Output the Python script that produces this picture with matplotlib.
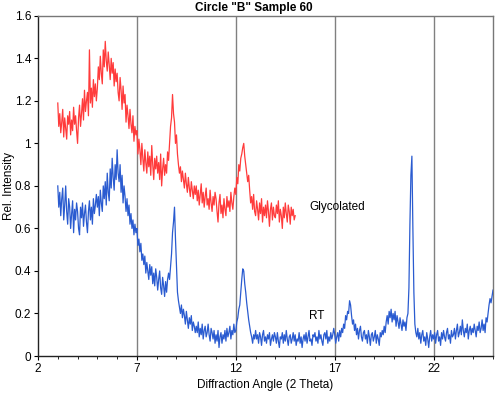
import numpy as np
import matplotlib.pyplot as plt
from matplotlib.ticker import MultipleLocator

plt.rcParams.update({
    'font.family': ['Liberation Sans', 'DejaVu Sans'],
    'font.size': 8.5,
    'axes.linewidth': 1.0,
})

# diffraction angle grids (2 theta, 0.05 deg steps)
angle_glycolated = np.round(np.arange(3.0, 15.001, 0.05), 2)
angle_rt = np.round(np.arange(3.0, 25.001, 0.05), 2)

# glycolated trace (one row per degree)
glycolated = [
    1.19, 1.08, 1.14, 1.05, 1.10, 1.16, 1.03, 1.12, 1.07, 1.02, 1.13, 1.09, 1.15, 1.04, 1.11, 1.06, 1.17, 1.09, 1.13, 1.06,
    1.00, 1.12, 1.18, 1.08, 1.14, 1.21, 1.11, 1.25, 1.15, 1.20, 1.24, 1.13, 1.44, 1.19, 1.26, 1.17, 1.30, 1.22, 1.28, 1.20,
    1.26, 1.36, 1.30, 1.41, 1.33, 1.28, 1.44, 1.36, 1.48, 1.39, 1.34, 1.43, 1.37, 1.30, 1.40, 1.33, 1.38, 1.27, 1.35, 1.29,
    1.33, 1.24, 1.20, 1.31, 1.25, 1.16, 1.27, 1.19, 1.23, 1.10, 1.18, 1.13, 1.07, 1.16, 1.09, 1.05, 1.13, 1.01, 1.08, 1.04,
    1.06, 0.95, 1.02, 0.97, 0.90, 1.00, 0.93, 0.87, 0.97, 0.91, 0.86, 0.96, 0.89, 0.94, 0.85, 0.99, 0.90, 0.83, 0.93, 0.88,
    0.94, 0.86, 0.91, 0.83, 0.95, 0.80, 0.88, 0.93, 0.85, 0.90, 0.86, 0.96, 0.92, 1.00, 1.08, 1.12, 1.23, 1.14, 1.10, 1.00,
    1.04, 0.95, 0.90, 0.86, 0.89, 0.82, 0.87, 0.83, 0.79, 0.86, 0.81, 0.77, 0.84, 0.79, 0.75, 0.82, 0.78, 0.74, 0.80, 0.76,
    0.80, 0.73, 0.78, 0.71, 0.76, 0.81, 0.72, 0.77, 0.70, 0.75, 0.79, 0.71, 0.74, 0.69, 0.78, 0.72, 0.68, 0.75, 0.71, 0.77,
    0.74, 0.68, 0.63, 0.72, 0.76, 0.67, 0.71, 0.65, 0.74, 0.69, 0.66, 0.75, 0.70, 0.73, 0.68, 0.77, 0.72, 0.69, 0.75, 0.79,
    0.76, 0.84, 0.81, 0.90, 0.87, 0.93, 0.95, 0.98, 1.00, 0.94, 0.90, 0.86, 0.82, 0.85, 0.78, 0.72, 0.75, 0.69, 0.76, 0.68,
    0.66, 0.73, 0.69, 0.64, 0.72, 0.67, 0.74, 0.63, 0.70, 0.66, 0.71, 0.65, 0.73, 0.68, 0.61, 0.69, 0.72, 0.64, 0.70, 0.66,
    0.65, 0.71, 0.67, 0.73, 0.63, 0.69, 0.66, 0.60, 0.70, 0.65, 0.72, 0.67, 0.63, 0.71, 0.68, 0.62, 0.70, 0.66, 0.69, 0.64,
    0.66,
]

# room temperature trace
rt = [
    0.80, 0.70, 0.77, 0.66, 0.74, 0.79, 0.64, 0.71, 0.80, 0.68, 0.62, 0.74, 0.70, 0.60, 0.67, 0.73, 0.58, 0.69, 0.64, 0.72,
    0.68, 0.60, 0.57, 0.70, 0.65, 0.72, 0.61, 0.67, 0.71, 0.63, 0.58, 0.68, 0.73, 0.64, 0.70, 0.62, 0.74, 0.67, 0.71, 0.76,
    0.70, 0.75, 0.66, 0.78, 0.72, 0.68, 0.80, 0.74, 0.82, 0.71, 0.86, 0.77, 0.73, 0.88, 0.79, 0.93, 0.84, 0.78, 0.90, 0.83,
    0.97, 0.86, 0.82, 0.90, 0.77, 0.85, 0.72, 0.80, 0.75, 0.68, 0.74, 0.66, 0.71, 0.62, 0.67, 0.60, 0.64, 0.57, 0.62, 0.58,
    0.60, 0.52, 0.55, 0.49, 0.53, 0.45, 0.48, 0.43, 0.47, 0.39, 0.44, 0.40, 0.36, 0.43, 0.38, 0.42, 0.34, 0.39, 0.33, 0.41,
    0.37, 0.31, 0.36, 0.40, 0.32, 0.29, 0.37, 0.33, 0.28, 0.35, 0.30, 0.36, 0.39, 0.36, 0.42, 0.48, 0.58, 0.63, 0.70, 0.55,
    0.42, 0.30, 0.26, 0.23, 0.20, 0.24, 0.18, 0.22, 0.19, 0.15, 0.21, 0.17, 0.13, 0.18, 0.15, 0.19, 0.12, 0.16, 0.14, 0.11,
    0.14, 0.11, 0.16, 0.09, 0.13, 0.10, 0.15, 0.08, 0.12, 0.14, 0.09, 0.11, 0.15, 0.10, 0.07, 0.13, 0.11, 0.08, 0.12, 0.06,
    0.10, 0.07, 0.12, 0.04, 0.09, 0.11, 0.06, 0.10, 0.08, 0.12, 0.07, 0.13, 0.09, 0.11, 0.14, 0.08, 0.12, 0.10, 0.15, 0.11,
    0.12, 0.16, 0.18, 0.22, 0.24, 0.30, 0.36, 0.41, 0.40, 0.34, 0.30, 0.25, 0.21, 0.17, 0.14, 0.11, 0.09, 0.06, 0.10, 0.08,
    0.12, 0.08, 0.10, 0.06, 0.11, 0.09, 0.05, 0.10, 0.12, 0.07, 0.09, 0.06, 0.10, 0.08, 0.11, 0.05, 0.08, 0.10, 0.07, 0.11,
    0.09, 0.06, 0.11, 0.07, 0.04, 0.09, 0.08, 0.11, 0.06, 0.10, 0.07, 0.12, 0.08, 0.05, 0.09, 0.10, 0.06, 0.08, 0.11, 0.07,
    0.10, 0.05, 0.08, 0.07, 0.11, 0.06, 0.09, 0.04, 0.08, 0.10, 0.07, 0.11, 0.06, 0.09, 0.12, 0.07, 0.08, 0.05, 0.10, 0.09,
    0.11, 0.07, 0.09, 0.06, 0.12, 0.08, 0.10, 0.07, 0.05, 0.10, 0.11, 0.08, 0.12, 0.06, 0.09, 0.07, 0.11, 0.08, 0.10, 0.13,
    0.10, 0.06, 0.09, 0.11, 0.07, 0.12, 0.09, 0.13, 0.11, 0.15, 0.13, 0.19, 0.17, 0.21, 0.20, 0.26, 0.24, 0.19, 0.15, 0.17,
    0.12, 0.15, 0.10, 0.13, 0.08, 0.12, 0.14, 0.09, 0.07, 0.11, 0.12, 0.08, 0.10, 0.06, 0.12, 0.09, 0.05, 0.10, 0.11, 0.07,
    0.09, 0.12, 0.06, 0.10, 0.08, 0.05, 0.11, 0.09, 0.12, 0.10, 0.14, 0.11, 0.16, 0.19, 0.15, 0.21, 0.18, 0.22, 0.16, 0.20,
    0.17, 0.21, 0.14, 0.19, 0.16, 0.13, 0.18, 0.15, 0.12, 0.17, 0.14, 0.16, 0.12, 0.18, 0.20, 0.32, 0.62, 0.85, 0.94, 0.60,
    0.30, 0.15, 0.11, 0.09, 0.13, 0.08, 0.11, 0.06, 0.10, 0.12, 0.07, 0.09, 0.05, 0.11, 0.08, 0.04, 0.09, 0.12, 0.07, 0.10,
    0.08, 0.11, 0.06, 0.10, 0.12, 0.07, 0.09, 0.05, 0.11, 0.08, 0.12, 0.09, 0.07, 0.11, 0.13, 0.08, 0.10, 0.06, 0.12, 0.09,
    0.10, 0.13, 0.08, 0.12, 0.15, 0.09, 0.11, 0.14, 0.10, 0.17, 0.12, 0.09, 0.13, 0.11, 0.15, 0.08, 0.12, 0.14, 0.10, 0.13,
    0.11, 0.15, 0.12, 0.09, 0.14, 0.12, 0.16, 0.11, 0.13, 0.17, 0.12, 0.15, 0.11, 0.18, 0.16, 0.20, 0.24, 0.27, 0.25, 0.28,
    0.31,
]

grid_angles = [7, 12, 17, 22]
x_ticks = [2, 7, 12, 17, 22]
y_ticks = [0, 0.2, 0.4, 0.6, 0.8, 1.0, 1.2, 1.4, 1.6]
y_tick_labels = ['0', '0.2', '0.4', '0.6', '0.8', '1', '1.2', '1.4', '1.6']

fig = plt.figure(figsize=(5.0, 3.96), dpi=100)
ax = fig.add_axes([0.076, 0.101, 0.91, 0.859])

for g in grid_angles:
    ax.axvline(g, color='#808080', linewidth=1.0, zorder=1)

ax.plot(angle_glycolated, glycolated, color='#ff3b3b', linewidth=0.9, zorder=3)
ax.plot(angle_rt, rt, color='#2a5bd0', linewidth=0.9, zorder=3)

ax.text(15.7, 0.70, 'Glycolated', fontsize=8.5, va='center', ha='left')
ax.text(15.7, 0.19, 'RT', fontsize=8.5, va='center', ha='left')

ax.set_xlim(2, 25)
ax.set_ylim(0, 1.6)
ax.set_xticks(x_ticks)
ax.xaxis.set_minor_locator(MultipleLocator(1))
ax.set_yticks(y_ticks)
ax.set_yticklabels(y_tick_labels)
ax.tick_params(axis='both', direction='out', length=3, width=0.8, labelsize=8.5, pad=2)
ax.tick_params(axis='x', which='minor', direction='out', length=2, width=0.6)

ax.spines['left'].set_color('#222222')
ax.spines['bottom'].set_color('#222222')
ax.spines['top'].set_color('#777777')
ax.spines['right'].set_color('#777777')

ax.set_xlabel('Diffraction Angle (2 Theta)', fontsize=8.5, labelpad=3)
ax.set_ylabel('Rel. Intensity', fontsize=8.5)
ax.yaxis.set_label_coords(-0.05, 0.5)
fig.suptitle('Circle "B" Sample 60', x=0.507, y=0.995, fontsize=8.5, fontweight='bold')

fig.savefig('out.png', dpi=100)
